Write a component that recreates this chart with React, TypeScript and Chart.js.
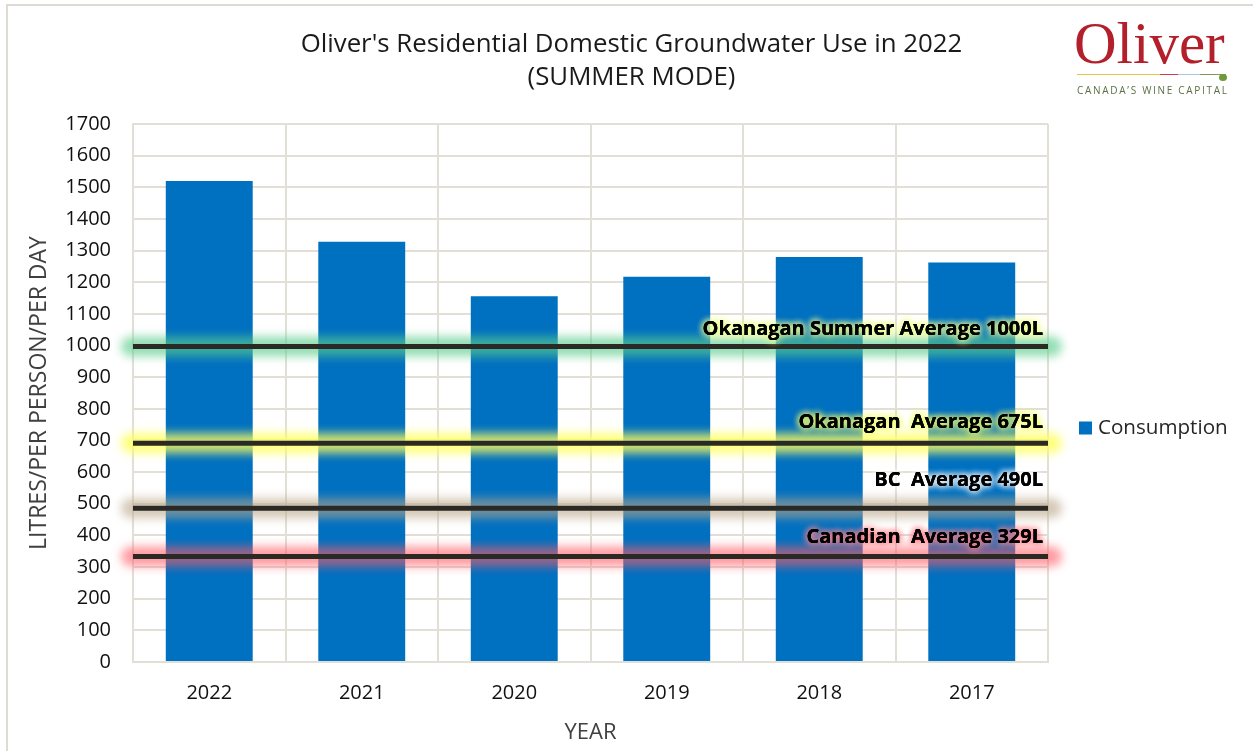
import React, { useEffect, useRef } from 'react';
import { Chart, registerables } from 'chart.js';

Chart.register(...registerables);

// ---------- data ----------
const categories = ['2022', '2021', '2020', '2019', '2018', '2017'];
const consumption = [1520, 1328, 1156, 1217, 1280, 1262];
const seriesLabel = 'Consumption';

const avgLabels = [
  'Okanagan Summer Average 1000L',
  'Okanagan  Average 675L',
  'BC  Average 490L',
  'Canadian  Average 329L',
];
const avgLineValues = [997, 691, 486, 333];
const avgLabelValues = [1050, 759, 575, 395];
const avgGlowColors = [
  'rgba(90, 205, 140, 0.65)',
  'rgba(255, 255, 90, 0.8)',
  'rgba(185, 165, 135, 0.6)',
  'rgba(255, 90, 100, 0.6)',
];
const avgTextGlow = [
  'rgba(235, 255, 140, 1)',
  'rgba(240, 255, 110, 1)',
  'rgba(255, 255, 255, 1)',
  'rgba(255, 130, 140, 1)',
];

const yMin = 0;
const yMax = 1700;
const yStep = 100;

const titleLines = ["Oliver's Residential Domestic Groundwater Use in 2022", '(SUMMER MODE)'];
const yTitle = 'LITRES/PER PERSON/PER DAY';
const xTitle = 'YEAR';

const FONT = '"Open Sans", "Noto Sans", sans-serif';
const BAR_COLOR = '#0070c0';
const GRID_COLOR = '#e2dfd7';

const avgPlugin = {
  id: 'avgLines',
  afterDatasetsDraw(chart: any) {
    const { ctx, chartArea, scales } = chart;
    const ys = scales.y;
    ctx.save();
    avgLineValues.forEach((v, i) => {
      const py = ys.getPixelForValue(v);
      ctx.save();
      ctx.filter = 'blur(5px)';
      ctx.strokeStyle = avgGlowColors[i];
      ctx.lineWidth = 20;
      ctx.lineCap = 'round';
      ctx.beginPath();
      ctx.moveTo(chartArea.left - 2, py);
      ctx.lineTo(chartArea.right + 4, py);
      ctx.stroke();
      ctx.restore();
    });
    avgLineValues.forEach((v) => {
      const py = ys.getPixelForValue(v);
      ctx.strokeStyle = '#2b2924';
      ctx.lineWidth = 5;
      ctx.lineCap = 'butt';
      ctx.beginPath();
      ctx.moveTo(chartArea.left, py);
      ctx.lineTo(chartArea.right, py);
      ctx.stroke();
    });
    ctx.font = `bold 20px ${FONT}`;
    ctx.textAlign = 'right';
    ctx.textBaseline = 'middle';
    avgLabels.forEach((t, i) => {
      const py = ys.getPixelForValue(avgLabelValues[i]);
      const px = chartArea.right - 5;
      ctx.save();
      ctx.shadowColor = avgTextGlow[i];
      ctx.shadowBlur = 7;
      ctx.fillStyle = '#000';
      for (let k = 0; k < 3; k++) ctx.fillText(t, px, py);
      ctx.restore();
      ctx.fillStyle = '#000';
      ctx.fillText(t, px, py);
    });
    ctx.restore();
  },
  afterDraw(chart: any) {
    const { ctx, chartArea } = chart;
    ctx.save();
    // title
    ctx.font = `25.8px ${FONT}`;
    ctx.fillStyle = '#1a1a1a';
    ctx.textAlign = 'center';
    ctx.textBaseline = 'middle';
    const cx = chart.width / 2 + 5;
    titleLines.forEach((t, i) => ctx.fillText(t, cx, 45 + i * 33));
    // legend
    const lx = chartArea.right + 31;
    const ly = 428;
    ctx.fillStyle = BAR_COLOR;
    ctx.fillRect(lx, ly - 6.5, 13, 13);
    ctx.font = `20.6px ${FONT}`;
    ctx.fillStyle = '#262626';
    ctx.textAlign = 'left';
    ctx.fillText(seriesLabel, lx + 19, ly);
    ctx.restore();
  },
};

export default function App() {
  const canvasRef = useRef<HTMLCanvasElement | null>(null);

  useEffect(() => {
    document.body.style.margin = '0';
    const canvas = canvasRef.current;
    if (!canvas) return;
    const chart = new Chart(canvas, {
      type: 'bar',
      data: {
        labels: categories,
        datasets: [
          {
            label: seriesLabel,
            data: consumption,
            backgroundColor: BAR_COLOR,
            borderWidth: 0,
            categoryPercentage: 1,
            barPercentage: 0.57,
          },
        ],
      },
      options: {
        responsive: false,
        animation: false,
        devicePixelRatio: 1,
        layout: { padding: { left: 0, right: 205, top: 124, bottom: 0 } },
        plugins: {
          legend: { display: false },
          tooltip: { enabled: false },
          title: { display: false },
        },
        scales: {
          x: {
            grid: { color: GRID_COLOR, lineWidth: 2, drawTicks: false, offset: true },
            border: { color: GRID_COLOR, width: 2 },
            ticks: { color: '#111', font: { family: FONT, size: 20 }, padding: 19 },
            title: {
              display: true,
              text: xTitle,
              color: '#404040',
              font: { family: FONT, size: 22 },
              padding: { top: 0, bottom: 5 },
            },
            afterFit: (s: any) => {
              s.height = 89;
            },
          },
          y: {
            min: yMin,
            max: yMax,
            grid: { color: GRID_COLOR, lineWidth: 2, drawTicks: false },
            border: { color: GRID_COLOR, width: 2 },
            ticks: {
              stepSize: yStep,
              color: '#111',
              font: { family: FONT, size: 20 },
              padding: 22,
              callback: (v: any) => String(v),
            },
            title: {
              display: true,
              text: yTitle,
              color: '#404040',
              font: { family: FONT, size: 23 },
              padding: { top: 26, bottom: 0 },
            },
            afterFit: (s: any) => {
              s.width = 133;
            },
          },
        },
      },
      plugins: [avgPlugin],
    } as any);
    return () => chart.destroy();
  }, []);

  return (
    <div style={{ position: 'relative', width: 1253, height: 751, overflow: 'hidden', background: '#fff' }}>
      <canvas ref={canvasRef} width={1253} height={751} style={{ position: 'absolute', left: 0, top: 0 }} />
      <div
        style={{
          position: 'absolute',
          left: 6,
          top: 4,
          width: 1300,
          height: 800,
          borderLeft: '2px solid #dedbd3',
          borderTop: '2px solid #dedbd3',
          pointerEvents: 'none',
        }}
      />
      <div style={{ position: 'absolute', left: 1074, top: 10, width: 160, height: 90 }}>
        <div
          style={{
            position: 'absolute',
            left: 0,
            top: 0,
            fontFamily: '"Liberation Serif", "DejaVu Serif", serif',
            fontSize: 59,
            lineHeight: '66px',
            color: '#b3202c',
          }}
        >
          Oliver
        </div>
        <div style={{ position: 'absolute', left: 3, top: 64, height: 1, width: 83, background: '#e6c640' }} />
        <div style={{ position: 'absolute', left: 86, top: 64, height: 1, width: 18, background: '#c9404c' }} />
        <div style={{ position: 'absolute', left: 104, top: 64, height: 1, width: 22, background: '#a9c6dd' }} />
        <div style={{ position: 'absolute', left: 126, top: 64, height: 1, width: 26, background: '#7f9a52' }} />
        <div
          style={{
            position: 'absolute',
            left: 145,
            top: 64,
            width: 8,
            height: 7,
            borderRadius: '50%',
            background: '#6e9a3c',
          }}
        />
        <div
          style={{
            position: 'absolute',
            left: 3,
            top: 73,
            fontFamily: '"Open Sans", sans-serif',
            fontSize: 10,
            letterSpacing: '1.7px',
            color: '#5b7044',
            whiteSpace: 'nowrap',
          }}
        >
          CANADA’S WINE CAPITAL
        </div>
      </div>
    </div>
  );
}
